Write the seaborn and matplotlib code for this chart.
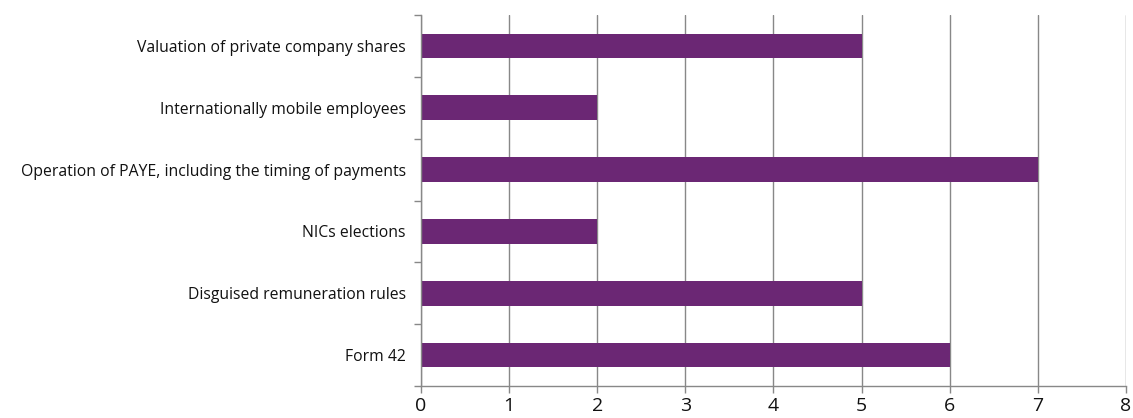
import matplotlib.pyplot as plt
import pandas as pd
import seaborn as sns
import numpy as np

# Data
categories = [
    "Valuation of private company shares",
    "Internationally mobile employees",
    "Operation of PAYE, including the timing of payments",
    "NICs elections",
    "Disguised remuneration rules",
    "Form 42",
]
counts = [5, 2, 7, 2, 5, 6]
x_ticks = [0, 1, 2, 3, 4, 5, 6, 7, 8]

df = pd.DataFrame({"category": categories, "count": counts})

sns.set_style("white")
plt.rcParams["font.family"] = ["Open Sans", "DejaVu Sans"]

fig = plt.figure(figsize=(11.33, 4.18), dpi=100)
ax = fig.add_axes([0.3716, 0.0766, 0.6222, 0.8874])

sns.barplot(
    data=df,
    x="count",
    y="category",
    order=categories,
    color="#6B2774",
    saturation=1,
    width=0.4,
    linewidth=0,
    orient="h",
    ax=ax,
)

ax.set_xlim(0, 8)
ax.set_ylim(len(categories) - 0.5, -0.5)
ax.set_xticks(x_ticks)
ax.set_xticklabels([str(t) for t in x_ticks], fontsize=14, color="#111111")
ax.tick_params(axis="x", bottom=True, length=5, width=1, color="#888888", direction="out", pad=3)
ax.tick_params(axis="y", which="major", left=False, length=0, labelsize=11.3, labelcolor="#111111", pad=11)
ax.set_yticks(np.arange(-0.5, len(categories), 1.0), minor=True)
ax.tick_params(axis="y", which="minor", left=True, length=5, width=1, color="#888888", direction="out")

ax.xaxis.grid(True, color="#888888", linewidth=1)
ax.yaxis.grid(False)
ax.set_axisbelow(True)

for side in ["top", "right"]:
    ax.spines[side].set_visible(False)
for side in ["left", "bottom"]:
    ax.spines[side].set_color("#888888")
    ax.spines[side].set_linewidth(1)

ax.set_xlabel("")
ax.set_ylabel("")

plt.savefig("out.png", dpi=100)
